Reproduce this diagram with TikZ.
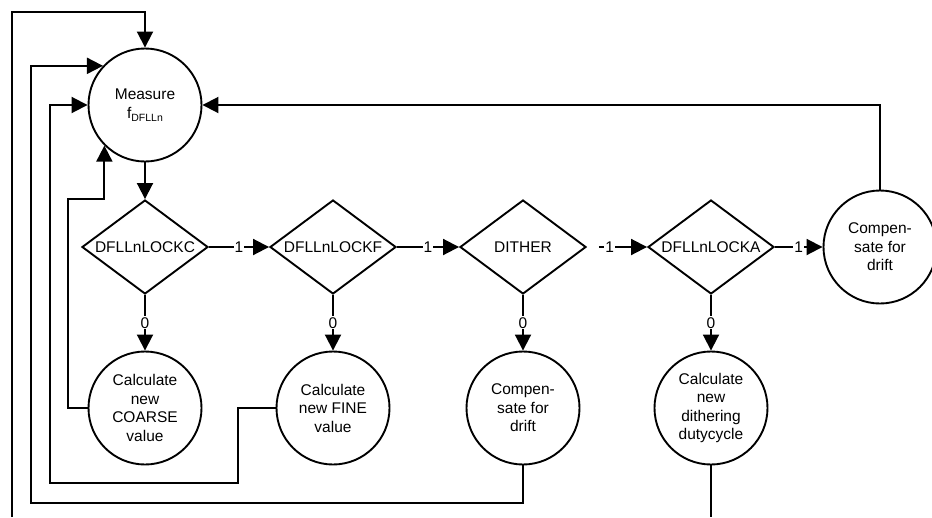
\documentclass[tikz,border=0pt]{standalone}
\usepackage{fontspec}
\setmainfont{Liberation Sans}
\usetikzlibrary{arrows.meta,shapes.geometric}
\begin{document}
\begin{tikzpicture}[x=1pt,y=-1pt,
  every node/.style={font=\fontsize{15.5}{18.5}\selectfont},
  conn/.style={line width=1.9pt},
  arr/.style={conn,-{Triangle[length=16pt,width=16pt]}},
  proc/.style={circle,draw,line width=1.9pt,minimum size=113pt,inner sep=0pt,align=center},
  decide/.style={diamond,draw,line width=1.9pt,aspect=1.34,minimum width=126pt,minimum height=94pt,inner sep=0pt},
  lbl/.style={fill=white,inner sep=1pt}
]
\useasboundingbox (0,0) rectangle (932,517);
\clip (0,0) rectangle (932,517);
% nodes
\node[proc] (m) at (145,105) {Measure\\f\raisebox{-3pt}{\fontsize{10.5}{11}\selectfont DFLLn}};
\node[decide] (dc) at (145,247) {DFLLnLOCKC};
\node[decide] (df) at (333,247) {DFLLnLOCKF};
\node[decide] (dd) at (523,247) {DITHER};
\node[decide] (da) at (711,247) {DFLLnLOCKA};
\node[proc] (cr) at (880,247) {Compen-\\sate for\\drift};
\node[proc] (co) at (145,408) {Calculate\\new\\COARSE\\value};
\node[proc] (fi) at (333,408) {Calculate\\new FINE\\value};
\node[proc] (cd) at (523,408) {Compen-\\sate for\\drift};
\node[proc] (du) at (711,408) {Calculate\\new\\dithering\\dutycycle};
\coordinate (bl) at (12,517);
\coordinate (br) at (711,517);
% main flow
\draw[arr] (m.south) -- (dc.north);
\draw[arr] (dc.east) -- node[lbl] {1} (df.west);
\draw[arr] (df.east) -- node[lbl] {1} (dd.west);
\draw[arr,shorten <=12pt] (dd.east) -- node[lbl,pos=0.38] {1} (da.west);
\draw[arr] (da.east) -- node[lbl] {1} (cr.west);
\draw[arr] (dc.south) -- node[lbl] {0} (co.north);
\draw[arr] (df.south) -- node[lbl] {0} (fi.north);
\draw[arr] (dd.south) -- node[lbl] {0} (cd.north);
\draw[arr] (da.south) -- node[lbl] {0} (du.north);
% feedback loops
\draw[arr] (cr.north) |- (m.east);
\draw[arr] (co.west) -- (68,408) -- (68,199) -| (m.-135);
\draw[arr] (fi.west) -- (238,408) -- (238,483) -- (50,483) |- (m.west);
\draw[arr] (cd.south) -- (523,503) -- (31,503) |- (m.137);
\draw[arr] (bl) -- (12,12) -| (m.north);
\draw[conn] (du.south) -- (br);
\end{tikzpicture}
\end{document}
